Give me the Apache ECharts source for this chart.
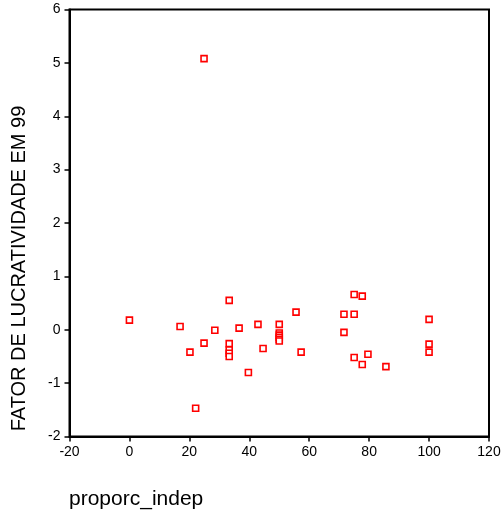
<!DOCTYPE html>
<html>
<head>
<meta charset="utf-8">
<script src="https://cdn.jsdelivr.net/npm/echarts@6/dist/echarts.min.js"></script>
<style>html,body{margin:0;padding:0;background:#fff}#c{width:504px;height:515px}</style>
</head>
<body>
<div id="c"></div>
<script>
var xTitle = 'proporc_indep';
var yTitle = 'FATOR DE LUCRATIVIDADE EM 99';
var xValues = [0, 16.9, 20.2, 22.1, 24.9, 24.9, 28.5, 33.3, 33.3, 33.3, 33.3, 33.3, 36.6, 39.7, 42.9, 44.6, 50, 50, 50, 50, 50, 50, 55.6, 57.3, 71.6, 71.6, 75, 75, 75, 77.7, 77.7, 79.6, 85.6, 100, 100, 100];
var yValues = [0.18, 0.06, -0.42, -1.47, 5.08, -0.25, -0.01, 0.55, -0.26, -0.38, -0.44, -0.50, 0.03, -0.80, 0.10, -0.35, 0.10, -0.06, -0.10, -0.14, -0.18, -0.21, 0.33, -0.42, 0.29, -0.05, 0.66, 0.29, -0.52, 0.63, -0.65, -0.46, -0.69, 0.195, -0.27, -0.42];

var pts = xValues.map(function (x, i) { return [x, yValues[i]]; });
var chart = echarts.init(document.getElementById('c'), null, {renderer: 'canvas'});
var font = 'Liberation Sans, Arial, sans-serif';
chart.setOption({
  animation: false,
  grid: {left: 69.5, right: 15, top: 9.5, bottom: 78.5, show: true, borderColor: '#000', borderWidth: 2, backgroundColor: 'transparent'},
  xAxis: {
    type: 'value', min: -20, max: 120, interval: 20,
    axisLine: {show: true, onZero: false, lineStyle: {color: '#000', width: 2}},
    axisTick: {show: true, length: 5, lineStyle: {color: '#000', width: 1.5}},
    axisLabel: {color: '#000', fontSize: 14, fontFamily: font, margin: 9},
    splitLine: {show: false}
  },
  yAxis: {
    type: 'value', min: -2, max: 6, interval: 1,
    axisLine: {show: true, onZero: false, lineStyle: {color: '#000', width: 2}},
    axisTick: {show: true, length: 5, lineStyle: {color: '#000', width: 1.5}},
    axisLabel: {color: '#000', fontSize: 14, fontFamily: font, margin: 9},
    splitLine: {show: false}
  },
  graphic: [
    {type: 'text', left: 69, top: 489, style: {text: xTitle, fill: '#000', font: '21px ' + font}},
    {type: 'text', x: 19, y: 268.5, rotation: Math.PI / 2, style: {text: yTitle, fill: '#000', font: '20px ' + font, textAlign: 'center', textVerticalAlign: 'middle'}}
  ],
  series: [{
    type: 'scatter',
    data: pts,
    symbol: 'rect',
    symbolSize: 6,
    itemStyle: {color: '#fff', borderColor: '#ff0000', borderWidth: 1.6, opacity: 1}
  }]
});
</script>
</body>
</html>
